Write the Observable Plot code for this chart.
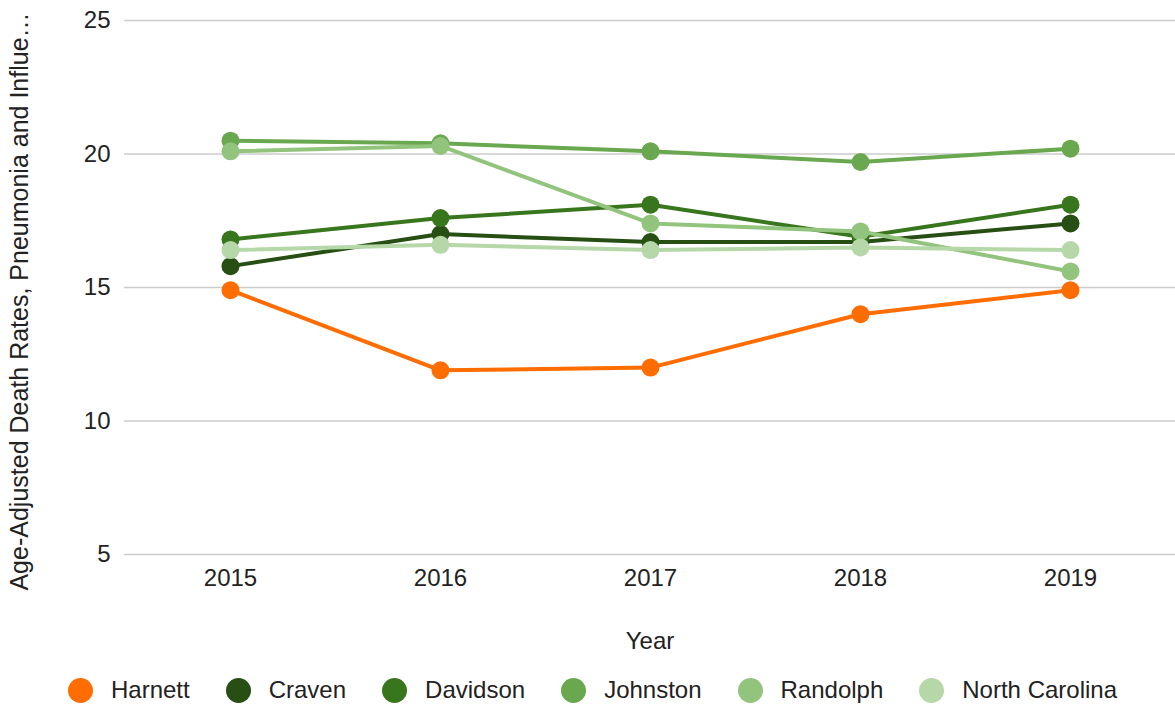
<!DOCTYPE html>
<html>
<head>
<meta charset="utf-8">
<script src="https://cdn.jsdelivr.net/npm/d3@7"></script>
<script src="https://cdn.jsdelivr.net/npm/@observablehq/plot@0.6"></script>
<style>
  html, body { margin: 0; padding: 0; background: #fff; }
  body { width: 1175px; height: 706px; overflow: hidden; font-family: "Liberation Sans", Arial, sans-serif; }
  #chart svg { display: block; }
  #legend { display: flex; justify-content: center; align-items: center; margin-top: 16px; padding-left: 10px; font-size: 24px; line-height: 28px; color: #222; }
  #legend .item { display: flex; align-items: center; margin: 0 18px; }
  #legend .sw { width: 25px; height: 25px; border-radius: 50%; margin-right: 18px; }
</style>
</head>
<body>
<div id="chart"></div>
<div id="legend"></div>
<script>
const years = ["2015", "2016", "2017", "2018", "2019"];
const seriesNames = ["Harnett", "Craven", "Davidson", "Johnston", "Randolph", "North Carolina"];
const colors = ["#ff6d01", "#274e13", "#38761d", "#6aa84f", "#93c47d", "#b6d7a8"];
const harnett  = [14.9, 11.9, 12.0, 14.0, 14.9];
const craven   = [15.8, 17.0, 16.7, 16.7, 17.4];
const davidson = [16.8, 17.6, 18.1, 16.9, 18.1];
const johnston = [20.5, 20.4, 20.1, 19.7, 20.2];
const randolph = [20.1, 20.3, 17.4, 17.1, 15.6];
const northCarolina = [16.4, 16.6, 16.4, 16.5, 16.4];
const yTicks = [5, 10, 15, 20, 25];
const yTitle = "Age-Adjusted Death Rates, Pneumonia and Influe\u2026";
const xTitle = "Year";

const seriesValues = [harnett, craven, davidson, johnston, randolph, northCarolina];
const data = [];
seriesNames.forEach((name, i) => {
  years.forEach((yr, j) => data.push({series: name, year: yr, value: seriesValues[i][j]}));
});

const chart = Plot.plot({
  width: 1175,
  height: 660,
  marginTop: 20,
  marginBottom: 106,
  marginLeft: 124,
  marginRight: 0,
  style: {fontFamily: "'Liberation Sans', Arial, sans-serif", fontSize: "24px", color: "#222"},
  x: {type: "point", domain: years, padding: 0.5},
  y: {domain: [5, 25], ticks: yTicks},
  color: {domain: seriesNames, range: colors},
  marks: [
    Plot.ruleY(yTicks, {stroke: "#cccccc", strokeWidth: 1.5}),
    Plot.axisY({ticks: yTicks, tickSize: 0, tickPadding: 14, label: null, fontSize: 24}),
    Plot.text([yTitle], {frameAnchor: "left", rotate: -90, textAnchor: "middle", dx: -105, dy: 14, fontSize: 25, fill: "#222"}),
    Plot.axisX({tickSize: 0, tickPadding: 14, label: xTitle, labelAnchor: "center", labelArrow: "none", labelOffset: 94, fontSize: 24}),
    Plot.line(data, {x: "year", y: "value", z: "series", stroke: "series", strokeWidth: 4}),
    Plot.dot(data, {x: "year", y: "value", fill: "series", r: 9})
  ]
});
document.getElementById("chart").appendChild(chart);

const legend = document.getElementById("legend");
seriesNames.forEach((name, i) => {
  const item = document.createElement("div");
  item.className = "item";
  const sw = document.createElement("div");
  sw.className = "sw";
  sw.style.background = colors[i];
  const lbl = document.createElement("span");
  lbl.textContent = name;
  item.appendChild(sw);
  item.appendChild(lbl);
  legend.appendChild(item);
});
</script>
</body>
</html>
